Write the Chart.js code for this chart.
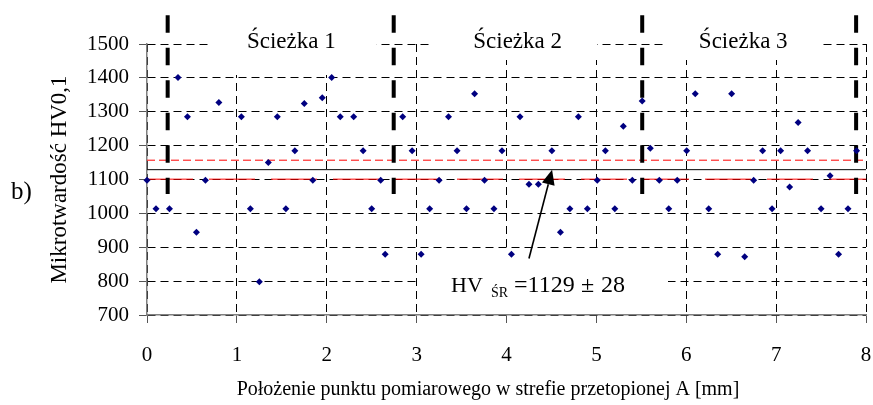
<!DOCTYPE html>
<html lang="pl">
<head>
<meta charset="utf-8">
<script src="https://cdn.jsdelivr.net/npm/chart.js@4.4.0/dist/chart.umd.min.js"></script>
<style>
  html,body{margin:0;padding:0;background:#fff;}
  #wrap{width:873px;height:405px;position:relative;}
</style>
</head>
<body>
<div id="wrap"><canvas id="chart"></canvas></div>
<script>
// measurement positions [mm] and hardness HV0,1
const posMm = [0, 0.10, 0.25, 0.345, 0.45, 0.55, 0.65, 0.80,
  1.05, 1.15, 1.25, 1.35, 1.45, 1.545, 1.645, 1.75, 1.845, 1.95,
  2.055, 2.15, 2.30, 2.405, 2.50, 2.60, 2.65, 2.845, 2.95,
  3.05, 3.145, 3.25, 3.355, 3.45, 3.555, 3.645, 3.755, 3.86, 3.95,
  4.055, 4.15, 4.25, 4.355, 4.505, 4.60, 4.705, 4.80, 4.90,
  5.01, 5.10, 5.205, 5.30, 5.40, 5.51, 5.60, 5.70, 5.805, 5.90,
  6.005, 6.10, 6.25, 6.35, 6.505, 6.65, 6.75, 6.85, 6.955,
  7.05, 7.15, 7.245, 7.35, 7.50, 7.60, 7.695, 7.80, 7.895];
const hardness = [1098, 1014, 1014, 1401, 1285, 944, 1098, 1327,
  1285, 1014, 798, 1150, 1285, 1014, 1185, 1324, 1098, 1341,
  1401, 1285, 1285, 1185, 1014, 1098, 879, 1285, 1185,
  879, 1014, 1098, 1285, 1185, 1014, 1353, 1098, 1014, 1185,
  879, 1285, 1086, 1086, 1185, 944, 1014, 1285, 1014,
  1098, 1185, 1014, 1257, 1098, 1332, 1192, 1098, 1014, 1098,
  1185, 1353, 1014, 879, 1353, 872, 1098, 1185, 1014,
  1185, 1078, 1268, 1185, 1014, 1111, 879, 1014, 1185];

const hvMean = 1129;
const hvDev = 28;
const pathBounds = [0.23, 2.745, 5.51, 7.89];   // path boundaries [mm]
const boundTop = 1585, boundBottom = 1057;       // extent of boundary markers
const pathNames = ['Ścieżka 1', 'Ścieżka 2', 'Ścieżka 3'];
const pathLabelX = [1.606, 4.124, 6.634];
const arrowFrom = {x: 4.25, y: 867};
const arrowTo = {x: 4.507, y: hvMean};

const xTicks = [0, 1, 2, 3, 4, 5, 6, 7, 8];
const yTicks = [700, 800, 900, 1000, 1100, 1200, 1300, 1400, 1500];

const SERIF = "'Liberation Serif', 'Times New Roman', serif";

const points = posMm.map((x, i) => ({x, y: hardness[i]}));
const hline = y => [{x: 0, y}, {x: 8, y}];

const datasets = [
  {data: points, showLine: false, pointStyle: 'rectRot', pointRadius: 3.5,
   pointBackgroundColor: '#000080', pointBorderWidth: 0, clip: false, order: 0},
  {data: hline(hvMean), showLine: true, borderColor: '#000', borderWidth: 1,
   pointRadius: 0, order: 2},
  {data: hline(hvMean + hvDev), showLine: true, borderColor: '#ff0000', borderWidth: 1,
   borderDash: [8, 4], pointRadius: 0, order: 2},
  {data: hline(hvMean - hvDev), showLine: true, borderColor: '#ff0000', borderWidth: 1,
   borderDash: [46, 16], pointRadius: 0, order: 2},
  ...pathBounds.map(x => ({
    data: [{x, y: boundTop}, {x, y: boundBottom}], showLine: true,
    borderColor: '#000', borderWidth: 4, borderDash: [17.5, 15], borderCapStyle: 'butt',
    pointRadius: 0, clip: false, order: 1
  }))
];

const extras = {
  id: 'extras',
  beforeDatasetsDraw(chart){
    const {ctx, scales: {x, y}, chartArea} = chart;
    ctx.save();
    // white boxes behind the path names
    ctx.fillStyle = '#fff';
    const boxes = [[211.7, 376.7, 75], [431.7, 597, 60], [663, 821.7, 60]];
    boxes.forEach(b => ctx.fillRect(b[0], 18, b[1] - b[0], b[2] - 18));
    // white box behind the mean label
    ctx.fillRect(417, 250, 251, chartArea.bottom - 251);
    ctx.fillStyle = '#000';
    ctx.font = '23px ' + SERIF;
    ctx.textAlign = 'center';
    ctx.textBaseline = 'alphabetic';
    pathNames.forEach((t, i) => ctx.fillText(t, x.getPixelForValue(pathLabelX[i]), chartArea.top + 4));
    ctx.restore();
  },
  afterDatasetsDraw(chart){
    const {ctx, scales: {x, y}} = chart;
    ctx.save();
    // arrow
    const x1 = x.getPixelForValue(arrowFrom.x), y1 = y.getPixelForValue(arrowFrom.y);
    const x2 = x.getPixelForValue(arrowTo.x), y2 = y.getPixelForValue(arrowTo.y);
    const ang = Math.atan2(y2 - y1, x2 - x1);
    const hl = 15, hw = 6.5;
    const bx = x2 - hl * Math.cos(ang), by = y2 - hl * Math.sin(ang);
    ctx.strokeStyle = '#000';
    ctx.lineWidth = 1.6;
    ctx.beginPath(); ctx.moveTo(x1, y1); ctx.lineTo(bx, by); ctx.stroke();
    ctx.fillStyle = '#000';
    ctx.beginPath();
    ctx.moveTo(x2, y2);
    ctx.lineTo(bx + hw * Math.sin(ang), by - hw * Math.cos(ang));
    ctx.lineTo(bx - hw * Math.sin(ang), by + hw * Math.cos(ang));
    ctx.closePath(); ctx.fill();
    // mean label
    ctx.textAlign = 'left';
    ctx.textBaseline = 'alphabetic';
    ctx.font = '22px ' + SERIF;
    ctx.fillText('HV', 451, 292);
    ctx.font = '14px ' + SERIF;
    ctx.fillText('ŚR', 491, 297);
    ctx.font = '24px ' + SERIF;
    ctx.fillText('=' + hvMean, 514, 292);
    ctx.fillText('\u00b1', 581, 292);
    ctx.fillText(String(hvDev), 601, 292);
    // x title and panel mark
    ctx.font = '20px ' + SERIF;
    ctx.textAlign = 'center';
    ctx.textBaseline = 'middle';
    ctx.fillText('Położenie punktu pomiarowego w strefie przetopionej A [mm]', 488, 390);
    ctx.font = '25px ' + SERIF;
    ctx.textAlign = 'left';
    ctx.fillText('b)', 11, 192);
    ctx.restore();
  }
};

new Chart(document.getElementById('chart'), {
  type: 'scatter',
  data: {datasets},
  plugins: [extras],
  options: {
    responsive: true,
    maintainAspectRatio: false,
    animation: false,
    layout: {padding: {top: 44, right: 7, left: 0, bottom: 0}},
    plugins: {legend: {display: false}, tooltip: {enabled: false}},
    scales: {
      x: {
        type: 'linear', min: 0, max: 8,
        afterBuildTicks: s => { s.ticks = xTicks.map(v => ({value: v})); },
        afterFit: s => { s.height = 90; s.paddingLeft = 0; s.paddingRight = 0; },
        ticks: {color: '#000', font: {family: SERIF, size: 21}, padding: 20, maxRotation: 0,
                callback: v => String(v)},
        grid: {color: '#000', lineWidth: 1, tickColor: '#555', tickLength: 8},
        border: {color: '#808080', width: 1.5, dash: [8, 5]}
      },
      y: {
        type: 'linear', min: 700, max: 1500,
        afterBuildTicks: s => { s.ticks = yTicks.map(v => ({value: v})); },
        afterFit: s => { s.width = 147; s.paddingTop = 0; s.paddingBottom = 0; },
        ticks: {color: '#000', font: {family: SERIF, size: 21}, padding: 10,
                callback: v => String(v)},
        grid: {color: '#000', lineWidth: 1, tickColor: '#555', tickLength: 8},
        border: {color: '#808080', width: 1.5, dash: [8, 5]},
        title: {display: true, text: 'Mikrotwardość HV0,1', color: '#000',
                font: {family: SERIF, size: 23}, padding: {top: 46}}
      }
    }
  }
});
</script>
</body>
</html>
